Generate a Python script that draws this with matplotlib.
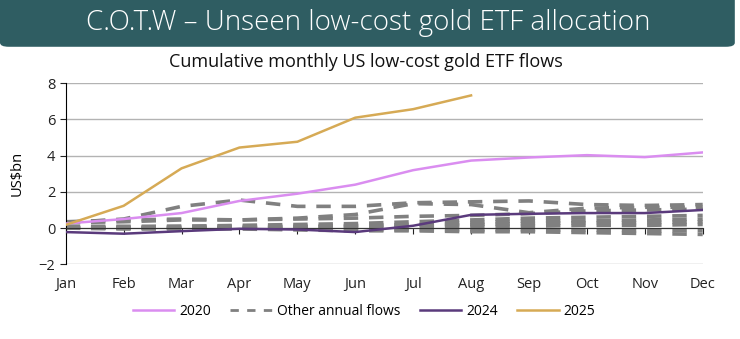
import matplotlib
matplotlib.use('Agg')
import matplotlib.pyplot as plt
from matplotlib.patches import FancyBboxPatch
from matplotlib.lines import Line2D

plt.rcParams['font.family'] = ['Open Sans', 'DejaVu Sans']

months = ['Jan', 'Feb', 'Mar', 'Apr', 'May', 'Jun', 'Jul', 'Aug', 'Sep', 'Oct', 'Nov', 'Dec']

flows_2020 = [0.25, 0.5, 0.83, 1.5, 1.9, 2.4, 3.2, 3.73, 3.9, 4.03, 3.92, 4.18]
flows_2024 = [-0.22, -0.31, -0.17, -0.04, -0.08, -0.22, 0.13, 0.73, 0.79, 0.83, 0.83, 1.0]
flows_2025 = [0.18, 1.23, 3.3, 4.45, 4.77, 6.1, 6.57, 7.33]

# other years (dashed grey)
other_flows = [
    [0.3, 0.5, 1.2, 1.55, 1.2, 1.2, 1.4, 1.45, 1.5, 1.3, 1.25, 1.3],
    [0.35, 0.45, 0.5, 0.45, 0.55, 0.75, 1.35, 1.3, 0.85, 1.1, 1.15, 1.15],
    [0.3, 0.35, 0.45, 0.45, 0.5, 0.55, 0.65, 0.7, 0.8, 0.95, 1.0, 1.05],
    [0.1, 0.1, 0.1, 0.15, 0.2, 0.25, 0.35, 0.45, 0.55, 0.6, 0.65, 0.7],
    [0.05, 0.05, 0.1, 0.1, 0.1, 0.15, 0.2, 0.3, 0.4, 0.4, 0.45, 0.5],
    [0.0, 0.0, 0.05, 0.05, 0.05, 0.1, 0.15, 0.2, 0.25, 0.3, 0.3, 0.35],
    [0.0, 0.0, 0.0, 0.0, 0.05, 0.05, 0.05, 0.1, 0.1, 0.15, 0.15, 0.2],
    [0.0, -0.05, -0.05, -0.05, -0.1, -0.15, -0.15, -0.2, -0.2, -0.25, -0.3, -0.35],
    [0.0, 0.0, 0.0, 0.0, -0.05, -0.1, -0.1, -0.1, -0.1, -0.1, -0.15, -0.15],
]

c2020 = '#da8df0'
c2024 = '#5a3a7c'
c2025 = '#d6aa55'
cother = '#808080'

fig = plt.figure(figsize=(7.4, 3.39), dpi=100)

# header banner
banner = FancyBboxPatch((0.0, 0.862), 0.993, 0.16, boxstyle='round,pad=0,rounding_size=0.012',
                        transform=fig.transFigure, facecolor='#2f5d62', edgecolor='none')
fig.patches.append(banner)
fig.text(0.497, 0.932, 'C.O.T.W \u2013 Unseen low-cost gold ETF allocation', color='white',
         fontsize=20, fontweight='light', ha='center', va='center')
fig.text(0.495, 0.817, 'Cumulative monthly US low-cost gold ETF flows', fontsize=13,
         ha='center', va='center', color='#111111')

ax = fig.add_axes([0.0888, 0.2204, 0.8608, 0.5339])
x = list(range(len(months)))

for ys in other_flows:
    ax.plot(x, ys, color=cother, lw=2.6, dashes=(4, 3), zorder=2)
ax.plot(x, flows_2020, color=c2020, lw=1.8, zorder=3)
ax.plot(x, flows_2024, color=c2024, lw=1.8, zorder=4)
ax.plot(x[:len(flows_2025)], flows_2025, color=c2025, lw=1.8, zorder=4)

ax.set_xlim(0, 11)
ax.set_ylim(-2, 8)
ax.set_yticks(range(-2, 9, 2))
ax.yaxis.grid(True, color='#b3b3b3', lw=1)
ax.set_axisbelow(True)
ax.set_xticks(x)
ax.set_xticklabels(months)
for s in ['top', 'right']:
    ax.spines[s].set_visible(False)
ax.spines['left'].set_color('black')
ax.spines['bottom'].set_position(('data', 0))
ax.spines['bottom'].set_color('#333333')
ax.tick_params(axis='x', length=4, direction='out', pad=31, labelsize=10.5, colors='#222222')
ax.tick_params(axis='y', length=4, labelsize=10.5, colors='#222222')
ax.set_ylabel('US$bn', fontsize=10.5, labelpad=10)

handles = [Line2D([], [], color=c2020, lw=1.8),
           Line2D([], [], color=cother, lw=2, dashes=(3, 3)),
           Line2D([], [], color=c2024, lw=1.8),
           Line2D([], [], color=c2025, lw=1.8)]
labels = ['2020', 'Other annual flows', '2024', '2025']
fig.legend(handles, labels, loc='center', bbox_to_anchor=(0.492, 0.082),
           ncol=4, frameon=False, fontsize=10, handlelength=3.0, columnspacing=1.4, handletextpad=0.35)

fig.savefig('out.png', dpi=100)
